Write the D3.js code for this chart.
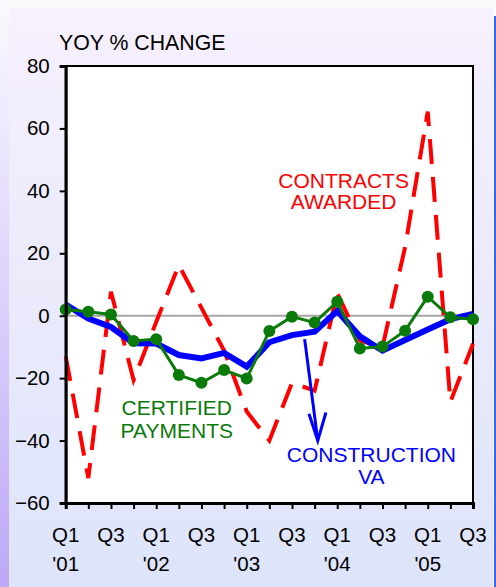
<!DOCTYPE html>
<html>
<head>
<meta charset="utf-8">
<script src="https://cdn.jsdelivr.net/npm/d3@7"></script>
<style>
body{margin:0;padding:0;background:#fafafd;}
svg{display:block;font-family:Arial,"Liberation Sans",sans-serif;}
</style>
</head>
<body>
<svg id="chart"></svg>
<script>
// quarters Q1 '01 .. Q3 '05
var quarterLabels=["Q1","","Q3","","Q1","","Q3","","Q1","","Q3","","Q1","","Q3","","Q1","","Q3"];
var yearLabels=["'01","","","","'02","","","","'03","","","","'04","","","","'05","",""];
var yTicks=[-60,-40,-20,0,20,40,60,80];

var constructionVA=[3.6,-0.9,-3.6,-8.8,-8.9,-12.6,-13.7,-11.9,-16.3,-8.5,-6.2,-5.1,1.5,-6.6,-11.2,-7.8,-4.4,-1.1,0.6];
var certifiedPayments=[2.0,1.3,0.4,-8.1,-7.5,-19.0,-21.5,-17.4,-20.1,-4.9,-0.3,-2.2,4.5,-10.5,-9.9,-4.8,6.1,-0.5,-1.1];
var contractsAwarded=[-13,-52,7.7,-20.6,-2,16.2,2.5,-11.2,-30.7,-40,-21.5,-24,7.2,-8,-10,22,65.4,-27.6,-9];

var w=496,h=587;
var margin={left:65.7,right:23,top:66,bottom:84};

var svg=d3.select("#chart").attr("width",w).attr("height",h);

var defs=svg.append("defs");
var g1=defs.append("linearGradient").attr("id","panel").attr("x1",0).attr("y1",0).attr("x2",0).attr("y2",1);
g1.append("stop").attr("offset","0%").attr("stop-color","#f7f0fd");
g1.append("stop").attr("offset","100%").attr("stop-color","#dde4fa");
var g2=defs.append("linearGradient").attr("id","strip").attr("x1",0).attr("y1",0).attr("x2",0).attr("y2",1);
g2.append("stop").attr("offset","0%").attr("stop-color","#fafafe");
g2.append("stop").attr("offset","100%").attr("stop-color","#bea8f8");

svg.append("rect").attr("x",0).attr("y",0).attr("width",9).attr("height",h).attr("fill","url(#strip)");
svg.append("rect").attr("x",9).attr("y",8).attr("width",484).attr("height",h-8).attr("fill","url(#panel)");
svg.append("rect").attr("x",494).attr("y",16).attr("width",2).attr("height",h-16).attr("fill","#3a62f2");

var xScale=d3.scaleLinear().domain([0,18]).range([margin.left,w-margin.right]);
var yScale=d3.scaleLinear().domain([-60,80]).range([h-margin.bottom,margin.top]);

// plot area
svg.append("rect")
   .attr("x",xScale(0)).attr("y",yScale(80))
   .attr("width",xScale(18)-xScale(0)).attr("height",yScale(-60)-yScale(80))
   .attr("fill","#ffffff").attr("stroke","#000").attr("stroke-width",2);

// zero line
svg.append("line")
   .attr("x1",xScale(0)).attr("x2",xScale(18))
   .attr("y1",yScale(0)).attr("y2",yScale(0))
   .attr("stroke","#a6a6a6").attr("stroke-width",2);

var line=d3.line()
           .x(function(d,i){return xScale(i);})
           .y(function(d){return yScale(d);});

svg.append("path")
   .datum(contractsAwarded)
   .attr("d",line)
   .attr("fill","none")
   .attr("stroke","#ff0000")
   .attr("stroke-width",4)
   .attr("stroke-dasharray","25,13");

svg.append("path")
   .datum(constructionVA)
   .attr("d",line)
   .attr("fill","none")
   .attr("stroke","#0000ff")
   .attr("stroke-width",6)
   .attr("stroke-linejoin","miter");

svg.append("path")
   .datum(certifiedPayments)
   .attr("d",line)
   .attr("fill","none")
   .attr("stroke","#0a7a0a")
   .attr("stroke-width",3);

svg.selectAll("circle.cp")
   .data(certifiedPayments)
   .enter()
   .append("circle")
   .classed("cp",true)
   .attr("cx",function(d,i){return xScale(i);})
   .attr("cy",function(d){return yScale(d);})
   .attr("r",6)
   .attr("fill","#0a7a0a");

// axes
var yAxis=d3.axisLeft(yScale).tickValues(yTicks).tickSize(6).tickPadding(10);
var yg=svg.append("g")
   .attr("transform","translate("+xScale(0)+",0)")
   .call(yAxis);
yg.select(".domain").attr("stroke-width",3);
yg.selectAll(".tick line").attr("stroke-width",2);
yg.selectAll("text").attr("font-size",20.5).attr("fill","#000").attr("font-family","Arial, Liberation Sans");

var xAxis=d3.axisBottom(xScale).tickValues(d3.range(19)).tickSize(6).tickPadding(0)
            .tickFormat(function(d){return "";});
var xg=svg.append("g")
   .attr("transform","translate(0,"+yScale(-60)+")")
   .call(xAxis);
xg.select(".domain").attr("stroke-width",3);
xg.selectAll(".tick line").attr("stroke-width",2);

svg.selectAll("text.ql")
   .data(quarterLabels)
   .enter()
   .append("text")
   .classed("ql",true)
   .attr("x",function(d,i){return xScale(i);})
   .attr("y",541.5)
   .attr("text-anchor","middle")
   .attr("font-size",20.5)
   .text(function(d){return d;});

svg.selectAll("text.yl")
   .data(yearLabels)
   .enter()
   .append("text")
   .classed("yl",true)
   .attr("x",function(d,i){return xScale(i);})
   .attr("y",570.5)
   .attr("text-anchor","middle")
   .attr("font-size",20.5)
   .text(function(d){return d;});

svg.append("text")
   .attr("x",59).attr("y",50)
   .attr("font-size",21.3)
   .text("YOY % CHANGE");

// series labels, placed in data units
function label(lines,qx,vy,color,lead){
  var t=svg.append("text")
     .attr("text-anchor","middle")
     .attr("font-size",21)
     .attr("fill",color);
  lines.forEach(function(s,k){
    t.append("tspan").attr("x",xScale(qx)).attr("y",yScale(vy)+k*lead).text(s);
  });
}
label(["CONTRACTS","AWARDED"],12.28,41.0,"#ff0000",21.5);
label(["CERTIFIED","PAYMENTS"],4.91,-31.8,"#0a7a0a",23);
label(["CONSTRUCTION","VA"],13.51,-46.8,"#0000ff",22.5);

// arrow from construction VA label up to the line
var ax0=10.56,ay0=-7.5,ax1=11.14,ay1=-40;
svg.append("line")
   .attr("x1",xScale(ax0)).attr("y1",yScale(ay0))
   .attr("x2",xScale(ax1)).attr("y2",yScale(ay1))
   .attr("stroke","#0000ff").attr("stroke-width",3);
svg.append("path")
   .attr("d","M"+xScale(10.75)+","+yScale(-31.4)+"L"+xScale(ax1)+","+yScale(ay1)+"L"+xScale(11.5)+","+yScale(-31.0))
   .attr("fill","none")
   .attr("stroke","#0000ff").attr("stroke-width",3);
</script>
</body>
</html>
